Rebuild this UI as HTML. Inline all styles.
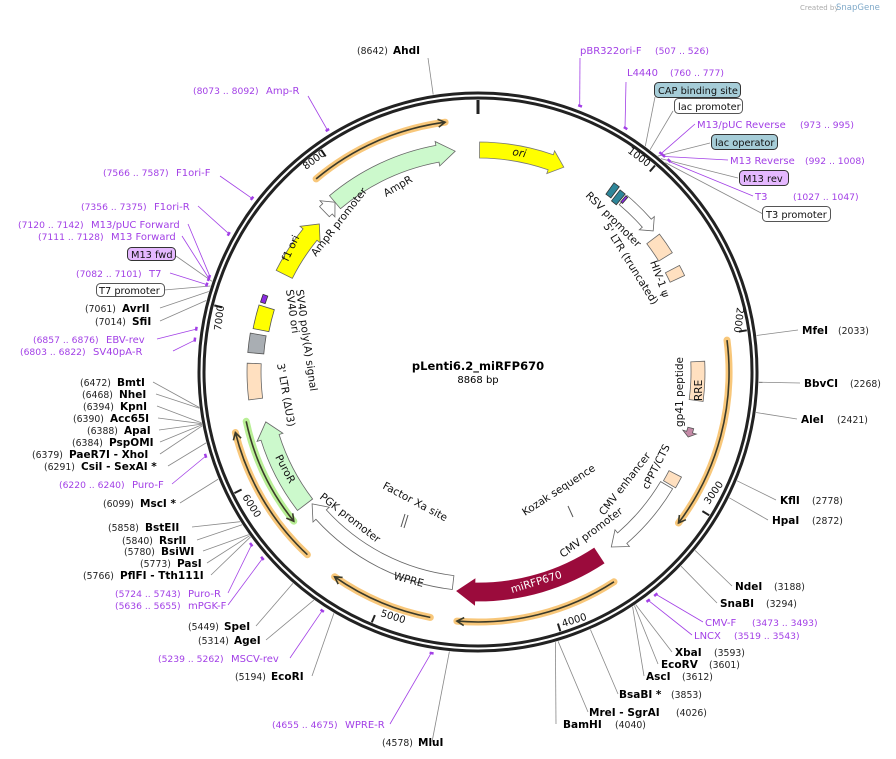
<!DOCTYPE html>
<html><head><meta charset="utf-8">
<style>
html,body{margin:0;padding:0;background:#fff;}
svg{display:block;font-family:"DejaVu Sans","Liberation Sans",sans-serif;}
.n{font-size:9.3px;fill:#222;}
.b{font-size:10.5px;font-weight:bold;fill:#000;}
.p{font-size:10px;fill:#a23fe6;}
.pn{font-size:9.2px;fill:#a23fe6;}
.f{font-size:10.5px;fill:#111;}
.t{font-size:10px;fill:#111;}
.bx{font-size:9.8px;fill:#111;}
</style></head><body>
<svg id="s" width="896" height="759" viewBox="0 0 896 759" xmlns="http://www.w3.org/2000/svg">
<g id="geo"></g>
<text x="800" y="10" style="font-size:7px;fill:#aaa">Created by</text><text x="836" y="10" style="font-size:8.5px;fill:#7fa9c9">SnapGene</text>

<text x="478" y="370" text-anchor="middle" style="font-size:11.5px;font-weight:bold">pLenti6.2_miRFP670</text>
<text x="478" y="383" text-anchor="middle" style="font-size:10px">8868 bp</text>

<!-- top labels -->
<text x="357" y="54" class="n">(8642)</text><text x="393" y="54" class="b">AhdI</text>
<text x="580" y="54" class="p">pBR322ori-F</text><text x="655" y="54" class="pn">(507 .. 526)</text>
<text x="627" y="76" class="p">L4440</text><text x="670" y="76" class="pn">(760 .. 777)</text>
<rect x="654.5" y="82.5" width="86" height="15" rx="4" fill="#a6cdd8" stroke="#333"/><text x="658" y="94" class="bx">CAP binding site</text>
<rect x="674.5" y="98.5" width="68" height="15" rx="4" fill="#fff" stroke="#555"/><text x="678" y="110" class="bx">lac promoter</text>
<text x="697" y="128" class="p">M13/pUC Reverse</text><text x="800" y="128" class="pn">(973 .. 995)</text>
<rect x="711.5" y="134.5" width="66" height="15" rx="4" fill="#a6cdd8" stroke="#333"/><text x="715" y="146" class="bx">lac operator</text>
<text x="730" y="164" class="p">M13 Reverse</text><text x="805" y="164" class="pn">(992 .. 1008)</text>
<rect x="739.5" y="170.5" width="49" height="15" rx="4" fill="#e5b8ff" stroke="#333"/><text x="743" y="182" class="bx">M13 rev</text>
<text x="755" y="200" class="p">T3</text><text x="793" y="200" class="pn">(1027 .. 1047)</text>
<rect x="762.5" y="206.5" width="68" height="15" rx="4" fill="#fff" stroke="#555"/><text x="766" y="218" class="bx">T3 promoter</text>

<!-- right labels -->
<text x="802" y="334" class="b">MfeI</text><text x="838" y="334" class="n">(2033)</text>
<text x="804" y="387" class="b">BbvCI</text><text x="850" y="387" class="n">(2268)</text>
<text x="801" y="423" class="b">AleI</text><text x="837" y="423" class="n">(2421)</text>
<text x="780" y="504" class="b">KflI</text><text x="812" y="504" class="n">(2778)</text>
<text x="772" y="524" class="b">HpaI</text><text x="812" y="524" class="n">(2872)</text>
<text x="735" y="590" class="b">NdeI</text><text x="774" y="590" class="n">(3188)</text>
<text x="720" y="607" class="b">SnaBI</text><text x="766" y="607" class="n">(3294)</text>
<text x="705" y="626" class="p">CMV-F</text><text x="752" y="626" class="pn">(3473 .. 3493)</text>
<text x="694" y="639" class="p">LNCX</text><text x="734" y="639" class="pn">(3519 .. 3543)</text>
<text x="675" y="656" class="b">XbaI</text><text x="714" y="656" class="n">(3593)</text>
<text x="661" y="668" class="b">EcoRV</text><text x="709" y="668" class="n">(3601)</text>
<text x="646" y="680" class="b">AscI</text><text x="682" y="680" class="n">(3612)</text>
<text x="619" y="698" class="b">BsaBI *</text><text x="671" y="698" class="n">(3853)</text>
<text x="589" y="716" class="b">MreI  - SgrAI</text><text x="676" y="716" class="n">(4026)</text>
<text x="563" y="728" class="b">BamHI</text><text x="615" y="728" class="n">(4040)</text>
<text x="382" y="746" class="n">(4578)</text><text x="418" y="746" class="b">MluI</text>
<text x="272" y="728" class="pn">(4655 .. 4675)</text><text x="345" y="728" class="p">WPRE-R</text>
<text x="235" y="680" class="n">(5194)</text><text x="271" y="680" class="b">EcoRI</text>
<text x="158" y="662" class="pn">(5239 .. 5262)</text><text x="231" y="662" class="p">MSCV-rev</text>
<text x="198" y="644" class="n">(5314)</text><text x="234" y="644" class="b">AgeI</text>
<text x="188" y="630" class="n">(5449)</text><text x="224" y="630" class="b">SpeI</text>

<!-- left labels -->
<text x="115" y="609" class="pn">(5636 .. 5655)</text><text x="188" y="609" class="p">mPGK-F</text>
<text x="115" y="597" class="pn">(5724 .. 5743)</text><text x="188" y="597" class="p">Puro-R</text>
<text x="83" y="579" class="n">(5766)</text><text x="120" y="579" class="b">PflFI  - Tth111I</text>
<text x="140" y="567" class="n">(5773)</text><text x="177" y="567" class="b">PasI</text>
<text x="124" y="555" class="n">(5780)</text><text x="161" y="555" class="b">BsiWI</text>
<text x="122" y="544" class="n">(5840)</text><text x="159" y="544" class="b">RsrII</text>
<text x="108" y="531" class="n">(5858)</text><text x="145" y="531" class="b">BstEII</text>
<text x="103" y="507" class="n">(6099)</text><text x="140" y="507" class="b">MscI *</text>
<text x="59" y="488" class="pn">(6220 .. 6240)</text><text x="132" y="488" class="p">Puro-F</text>
<text x="44" y="470" class="n">(6291)</text><text x="81" y="470" class="b">CsiI  - SexAI *</text>
<text x="32" y="458" class="n">(6379)</text><text x="69" y="458" class="b">PaeR7I  - XhoI</text>
<text x="72" y="446" class="n">(6384)</text><text x="109" y="446" class="b">PspOMI</text>
<text x="87" y="434" class="n">(6388)</text><text x="124" y="434" class="b">ApaI</text>
<text x="73" y="422" class="n">(6390)</text><text x="110" y="422" class="b">Acc65I</text>
<text x="83" y="410" class="n">(6394)</text><text x="120" y="410" class="b">KpnI</text>
<text x="82" y="398" class="n">(6468)</text><text x="119" y="398" class="b">NheI</text>
<text x="80" y="386" class="n">(6472)</text><text x="117" y="386" class="b">BmtI</text>
<text x="20" y="355" class="pn">(6803 .. 6822)</text><text x="93" y="355" class="p">SV40pA-R</text>
<text x="33" y="343" class="pn">(6857 .. 6876)</text><text x="106" y="343" class="p">EBV-rev</text>
<text x="95" y="325" class="n">(7014)</text><text x="132" y="325" class="b">SfiI</text>
<text x="85" y="312" class="n">(7061)</text><text x="122" y="312" class="b">AvrII</text>
<rect x="96.5" y="283.5" width="68" height="13" rx="4" fill="#fff" stroke="#555"/><text x="99" y="294" class="bx">T7 promoter</text>
<text x="76" y="277" class="pn">(7082 .. 7101)</text><text x="149" y="277" class="p">T7</text>
<rect x="127.5" y="247.5" width="48" height="13" rx="4" fill="#e5b8ff" stroke="#333"/><text x="131" y="258" class="bx">M13 fwd</text>
<text x="38" y="240" class="pn">(7111 .. 7128)</text><text x="111" y="240" class="p">M13 Forward</text>
<text x="18" y="228" class="pn">(7120 .. 7142)</text><text x="91" y="228" class="p">M13/pUC Forward</text>
<text x="81" y="210" class="pn">(7356 .. 7375)</text><text x="154" y="210" class="p">F1ori-R</text>
<text x="103" y="176" class="pn">(7566 .. 7587)</text><text x="176" y="176" class="p">F1ori-F</text>
<text x="193" y="94" class="pn">(8073 .. 8092)</text><text x="266" y="94" class="p">Amp-R</text>

<!-- tick labels -->
<text class="t" transform="translate(627,152) rotate(37)">1000</text>
<text class="t" transform="translate(737,307) rotate(97)">2000</text>
<text class="t" transform="translate(709,505) rotate(-55)">3000</text>
<text class="t" transform="translate(563,627) rotate(-17)">4000</text>
<text class="t" transform="translate(380,616) rotate(17)">5000</text>
<text class="t" transform="translate(242,497) rotate(57)">6000</text>
<text class="t" transform="translate(221,331) rotate(-83)">7000</text>
<text class="t" transform="translate(306,170) rotate(-37)">8000</text>

<!-- feature labels -->
<text class="f" transform="translate(512,155) rotate(10)" style="font-style:italic">ori</text>
<text class="f" transform="translate(386,197) rotate(-30)">AmpR</text>
<text class="f" transform="translate(316,257) rotate(-52)">AmpR promoter</text>
<text class="f" transform="translate(288,262) rotate(-65)">f1 ori</text>
<text class="f" transform="translate(286,290) rotate(82)">SV40 ori</text>
<text class="f" transform="translate(296,290) rotate(82)">SV40 poly(A) signal</text>
<text class="f" transform="translate(277,364) rotate(80)">3' LTR (ΔU3)</text>
<text class="f" transform="translate(275,457) rotate(62)">PuroR</text>
<text class="f" transform="translate(319,498) rotate(38)">PGK promoter</text>
<text class="f" transform="translate(393,579) rotate(15)">WPRE</text>
<text class="f" transform="translate(382,488) rotate(28)">Factor Xa site</text>
<text class="f" transform="translate(525,516) rotate(-33)">Kozak sequence</text>
<text class="f" transform="translate(604,516) rotate(-52)">CMV enhancer</text>
<text class="f" transform="translate(648,490) rotate(-63)">cPPT/CTS</text>
<text class="f" transform="translate(563,558) rotate(-37)">CMV promoter</text>
<text class="f" transform="translate(512,593) rotate(-17)" style="fill:#fff">miRFP670</text>
<text class="f" transform="translate(683,427) rotate(-90)">gp41 peptide</text>
<text class="f" transform="translate(702,401) rotate(-90)">RRE</text>
<text class="f" transform="translate(585,196) rotate(45)">RSV promoter</text>
<text class="f" transform="translate(603,226) rotate(58)">5' LTR (truncated)</text>
<text class="f" transform="translate(650,262) rotate(70)">HIV-1 ψ</text>
</svg>
<script>
(function(){
var N=8868,cx=478,cy=372,g=document.getElementById('geo'),h='';
function P(p,r){var t=p/N*2*Math.PI;return [cx+r*Math.sin(t),cy-r*Math.cos(t)];}
function f(a){return a[0].toFixed(1)+' '+a[1].toFixed(1);}
function arc(s,e,r){var l=((e-s)/N>0.5)?1:0;return 'M'+f(P(s,r))+' A'+r+' '+r+' 0 '+l+' 1 '+f(P(e,r));}
function band(s,e,r,w,dir,fill,stroke,hp){
 var hb=(hp||12)/r*N/(2*Math.PI),ro=r+w/2,ri=r-w/2,d,l;
 if(dir==1){var e2=e-hb;l=((e2-s)/N>0.5)?1:0;
  d='M'+f(P(s,ro))+' A'+ro+' '+ro+' 0 '+l+' 1 '+f(P(e2,ro))+' L'+f(P(e2,ro+4))+' L'+f(P(e,r))+' L'+f(P(e2,ri-4))+' L'+f(P(e2,ri))+' A'+ri+' '+ri+' 0 '+l+' 0 '+f(P(s,ri))+' Z';}
 else if(dir==-1){var s2=s+hb;l=((e-s2)/N>0.5)?1:0;
  d='M'+f(P(s2,ro))+' A'+ro+' '+ro+' 0 '+l+' 1 '+f(P(e,ro))+' L'+f(P(e,ri))+' A'+ri+' '+ri+' 0 '+l+' 0 '+f(P(s2,ri))+' L'+f(P(s2,ri-4))+' L'+f(P(s,r))+' L'+f(P(s2,ro+4))+' Z';}
 else {l=((e-s)/N>0.5)?1:0;
  d='M'+f(P(s,ro))+' A'+ro+' '+ro+' 0 '+l+' 1 '+f(P(e,ro))+' L'+f(P(e,ri))+' A'+ri+' '+ri+' 0 '+l+' 0 '+f(P(s,ri))+' Z';}
 h+='<path d="'+d+'" fill="'+fill+'" stroke="'+(stroke||'#666')+'" stroke-width="0.8"/>';
}
function orf(s,e,r,dir,glow){
 glow=glow||'#f8c77a';
 h+='<path d="'+arc(s,e,r)+'" fill="none" stroke="'+glow+'" stroke-width="7" stroke-linecap="round"/>';
 var hb=7/r*N/(2*Math.PI);
 h+='<path d="'+arc(s,e,r)+'" fill="none" stroke="#3a3a2a" stroke-width="1.6"/>';
 var tip=dir==1?e:s, b=dir==1?e-hb:s+hb;
 h+='<path d="M'+f(P(b,r+4))+' L'+f(P(tip,r))+' L'+f(P(b,r-4))+'" fill="none" stroke="#3a3a2a" stroke-width="1.6"/>';
}
h+='<circle cx="'+cx+'" cy="'+cy+'" r="279" fill="none" stroke="#222" stroke-width="3"/>';
h+='<circle cx="'+cx+'" cy="'+cy+'" r="274" fill="none" stroke="#222" stroke-width="3"/>';
for(var k=0;k<=8;k++){var a=P(k*1000,272),b=P(k*1000,k==0?258:264);h+='<line x1="'+a[0].toFixed(1)+'" y1="'+a[1].toFixed(1)+'" x2="'+b[0].toFixed(1)+'" y2="'+b[1].toFixed(1)+'" stroke="#222" stroke-width="'+(k==0?3:2)+'"/>';}
var L=[[428,58,8642,0],[580,58,517,1],[626,82,768,1],[655,97,900,0],[673,111,930,0],[695,124,984,1],[710,143,980,0],[728,160,1000,1],[738,178,1000,0],[753,196,1037,1],[763,214,1030,0],
[798,330,2033,0],[800,383,2268,0],[797,419,2421,0],[776,500,2778,0],[768,520,2872,0],[732,586,3188,0],[717,603,3294,0],[703,622,3483,1],[692,635,3531,1],[672,652,3593,0],[658,664,3601,0],[644,676,3612,0],[618,694,3853,0],[588,712,4026,0],[556,724,4040,0],
[432,742,4578,0],[390,724,4665,1],[312,676,5194,0],[290,658,5250,1],[266,640,5314,0],[256,626,5449,0],[228,605,5645,1],[228,593,5733,1],[211,575,5766,0],[207,563,5773,0],[203,551,5780,0],[197,540,5840,0],[192,527,5858,0],[180,503,6099,0],[172,484,6230,1],[168,466,6291,0],[160,454,6379,0],[160,442,6384,0],[159,430,6388,0],[158,418,6390,0],[157,406,6394,0],[156,394,6468,0],[153,382,6472,0],
[173,351,6812,1],[157,339,6866,1],[160,321,7014,0],[160,308,7061,0],[164,290,7090,0],[170,273,7091,1],[176,256,7115,0],[182,236,7120,1],[188,224,7131,1],[198,206,7365,1],[220,176,7576,1],[308,96,8082,1]];
L.forEach(function(q){var e=P(q[2],q[3]?284:281),c=q[3]?'#a23fe6':'#888';
 h+='<line x1="'+q[0]+'" y1="'+q[1]+'" x2="'+e[0].toFixed(1)+'" y2="'+e[1].toFixed(1)+'" stroke="'+c+'" stroke-width="0.8"/>';
 if(q[3]){h+='<path d="'+arc(q[2]-10,q[2]+10,285)+'" stroke="#a23fe6" stroke-width="2.5" fill="none"/>';}
});
orf(7883,8683,252,1);
orf(2037,3128,251,1);
orf(3622,4553,250,1);
orf(4705,5296,250,1);
orf(5494,6306,250,1);
orf(5690,6355,237,-1,'#b9ef96');
band(10,560,222,16,1,'#ffff00','#777',14);
band(7880,8723,222,17,1,'#ccf9cc','#666',18);
band(7790,7880,222,14,1,'#fff','#666',10);
band(7310,7710,217,18,1,'#ffff00','#666',14);
band(6920,7070,221,16,0,'#ffff00','#555');
band(6770,6890,223,16,0,'#a9aeb3','#555');
band(6480,6705,224,14,0,'#ffe0c0','#666');
band(5727,6325,218,19,1,'#ccf9cc','#666',16);
band(4600,5703,212,14,1,'#fff','#666',14);
band(3612,4570,220,18,1,'#9b0b3c','#9b0b3c',18);
band(2980,3515,220,14,1,'#fff','#666',14);
band(2890,2965,222,14,0,'#ffe0c0','#666');
band(2150,2400,220,14,0,'#ffe0c0','#666');
band(2580,2640,220,6,1,'#c58aa7','#555',5);
band(1300,1440,220,16,0,'#ffe0c0','#666');
band(1530,1600,220,16,0,'#ffe0c0','#666');
band(990,1260,225,12,1,'#fff','#666',10);
band(880,920,226,14,0,'#2e8699','#333');
band(935,975,224,14,0,'#2e8699','#333');
band(985,1000,226,8,0,'#8a2be2','#333');
band(7090,7140,226,5,0,'#8a2be2','#333');
g.innerHTML=h;
g.innerHTML+='<line x1="401" y1="527" x2="405" y2="514" stroke="#555"/><line x1="404" y1="528" x2="408" y2="515" stroke="#555"/><line x1="568" y1="506" x2="573" y2="517" stroke="#555"/>';
})();
</script>
</body></html>
